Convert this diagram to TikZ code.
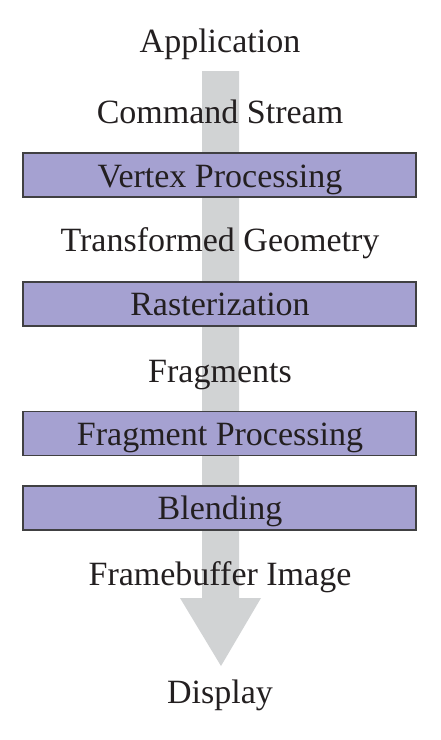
\documentclass[tikz,border=0pt]{standalone}
\usepackage{fontspec}
\setmainfont{Liberation Serif}
\definecolor{boxfill}{RGB}{165,161,209}
\definecolor{boxline}{RGB}{64,64,66}
\definecolor{shaft}{RGB}{209,211,212}
\definecolor{ink}{RGB}{35,31,32}
\begin{document}
\begin{tikzpicture}[x=1pt,y=-1pt,
  lbl/.style={anchor=base,text=ink,font=\fontsize{34}{39}\selectfont,inner sep=0pt},
  stage/.style={draw=boxline,line width=1.4pt,fill=boxfill,minimum width=393pt,minimum height=44pt,inner sep=0pt}]
\useasboundingbox (0,0) rectangle (441,740);
% big arrow
\fill[shaft] (202,71) -- (239,71) -- (239,598) -- (261,598) -- (221,666) -- (180,598) -- (202,598) -- cycle;
% stage boxes
\node[stage] (vp) at (219.5,175) {};
\node[stage] (ra) at (219.5,304) {};
\node[stage] (fp) at (219.5,433.5) {};
\node[stage] (bl) at (219.5,508) {};
% labels
\node[lbl] (app) at (220,52) {Application};
\node[lbl] (cs) at (220,123) {Command Stream};
\node[lbl] (vpt) at (220,187) {Vertex Processing};
\node[lbl] (tg) at (220,251) {Transformed Geometry};
\node[lbl] (rat) at (220,315) {Rasterization};
\node[lbl] (fr) at (220,382) {Fragments};
\node[lbl] (fpt) at (220,445) {Fragment Processing};
\node[lbl] (blt) at (220,519) {Blending};
\node[lbl] (fb) at (220,585) {Framebuffer Image};
\node[lbl] (dp) at (220,703) {Display};
\end{tikzpicture}
\end{document}
